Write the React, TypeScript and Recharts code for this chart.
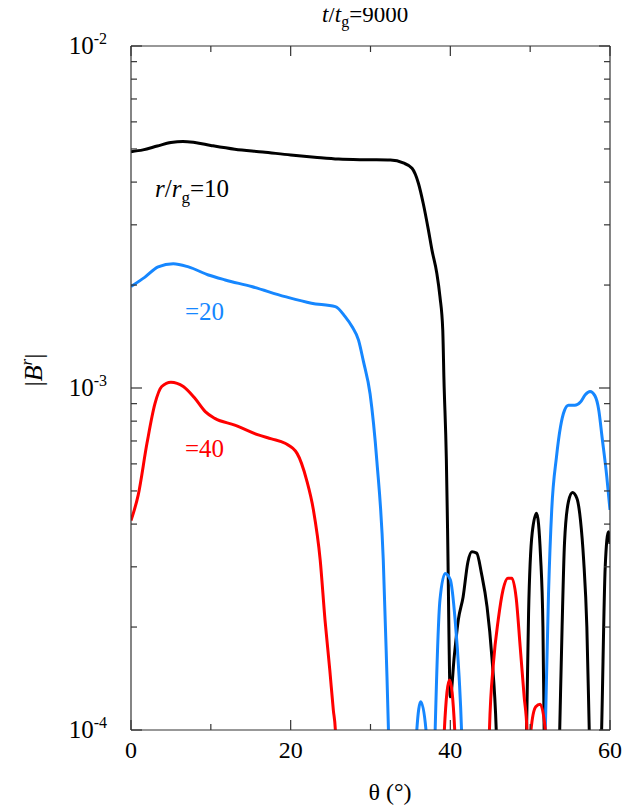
import React from 'react'
import { LineChart, Line, XAxis, YAxis } from 'recharts'

// theta in degrees, |B^r| values (5e-5 = below the axis floor)
const r10Theta = [0, 1.5, 3.3, 5, 6.5, 8, 10, 13, 16.5, 20, 23, 26, 29.5, 32.5, 34.1, 35.2, 36.0, 36.6, 37.25, 37.7, 38.3, 38.7, 39.05, 39.2, 39.5, 39.65, 40.0, 40.5, 41.0, 41.6, 42.2, 42.7, 43.3, 43.9, 44.6, 45.2, 45.75, 46.1, 49.2, 49.55, 49.8, 50.25, 50.8, 51.3, 51.6, 51.75, 52.0, 53.4, 53.7, 54.0, 54.3, 54.8, 55.3, 55.85, 56.3, 56.7, 57.1, 57.4, 57.7, 58.6, 58.95, 59.4, 59.8, 60]
const r10B = [4.91e-3, 4.97e-3, 5.1e-3, 5.22e-3, 5.26e-3, 5.22e-3, 5.12e-3, 4.99e-3, 4.9e-3, 4.8e-3, 4.73e-3, 4.67e-3, 4.65e-3, 4.64e-3, 4.55e-3, 4.39e-3, 3.97e-3, 3.47e-3, 2.9e-3, 2.53e-3, 2.17e-3, 1.85e-3, 1.48e-3, 1.06e-3, 6.2e-4, 3.9e-4, 1.25e-4, 1.65e-4, 2.1e-4, 2.45e-4, 3.1e-4, 3.32e-4, 3.29e-4, 2.87e-4, 2.29e-4, 1.64e-4, 1e-4, 5e-5, 5e-5, 1e-4, 2.19e-4, 3.76e-4, 4.3e-4, 3.22e-4, 2.0e-4, 1e-4, 5e-5, 5e-5, 1e-4, 2.0e-4, 3.52e-4, 4.66e-4, 4.95e-4, 4.76e-4, 4.11e-4, 3.14e-4, 2.0e-4, 1e-4, 5e-5, 5e-5, 1e-4, 3.0e-4, 3.8e-4, 3.5e-4]

const r20Theta = [0, 1.75, 3.4, 5.3, 7.2, 9.7, 11.8, 15.1, 19.3, 22.6, 25.6, 26.8, 27.7, 28.5, 29.1, 29.95, 30.8, 31.6, 32.0, 32.25, 32.5, 35.5, 35.8, 36.3, 36.95, 37.2, 37.8, 38.1, 38.7, 39.35, 40.0, 40.6, 41.1, 41.4, 41.7, 51.6, 51.9, 52.3, 52.7, 53.3, 53.8, 54.3, 54.8, 55.6, 56.3, 56.9, 57.5, 58.1, 58.6, 59.0, 59.6, 60]
const r20B = [1.98e-3, 2.11e-3, 2.26e-3, 2.31e-3, 2.26e-3, 2.14e-3, 2.07e-3, 1.98e-3, 1.85e-3, 1.77e-3, 1.73e-3, 1.62e-3, 1.51e-3, 1.38e-3, 1.2e-3, 9.6e-4, 6.1e-4, 3.14e-4, 1.6e-4, 1e-4, 5e-5, 5e-5, 1e-4, 1.21e-4, 1e-4, 5e-5, 5e-5, 1e-4, 2.4e-4, 2.87e-4, 2.75e-4, 2.1e-4, 1.43e-4, 1e-4, 5e-5, 5e-5, 1e-4, 2.51e-4, 4.4e-4, 6.3e-4, 7.7e-4, 8.6e-4, 8.9e-4, 8.9e-4, 9.1e-4, 9.55e-4, 9.76e-4, 9.5e-4, 8.6e-4, 7.2e-4, 5.5e-4, 4.4e-4]

const r40Theta = [0, 0.9, 2.0, 3.0, 3.85, 5.0, 6.55, 8.0, 9.3, 10.5, 13.0, 15.95, 17.6, 19.3, 20.8, 22.0, 22.85, 23.7, 24.3, 24.9, 25.35, 25.6, 25.9, 38.95, 39.25, 39.9, 40.55, 40.85, 44.6, 44.9, 45.4, 46.0, 46.6, 47.2, 47.7, 48.25, 48.75, 49.25, 49.6, 49.85, 50.1, 50.7, 51.25, 51.9, 52.2, 60]
const r40B = [4.1e-4, 4.86e-4, 6.89e-4, 9.0e-4, 1.01e-3, 1.04e-3, 1.01e-3, 9.33e-4, 8.53e-4, 8.15e-4, 7.79e-4, 7.29e-4, 7.1e-4, 6.89e-4, 6.44e-4, 5.38e-4, 4.4e-4, 3.14e-4, 2.1e-4, 1.5e-4, 1.14e-4, 1e-4, 5e-5, 5e-5, 1e-4, 1.4e-4, 1e-4, 5e-5, 5e-5, 1e-4, 1.57e-4, 2.1e-4, 2.57e-4, 2.78e-4, 2.78e-4, 2.43e-4, 1.75e-4, 1.25e-4, 1e-4, 5e-5, 1e-4, 1.17e-4, 1.19e-4, 1e-4, 5e-5, 5e-5]

const thetaTicks = [0, 10, 20, 30, 40, 50, 60]
const thetaLabels = [0, 20, 40, 60]
const bTicks = [1e-4, 2e-4, 3e-4, 4e-4, 5e-4, 6e-4, 7e-4, 8e-4, 9e-4, 1e-3, 2e-3, 3e-3, 4e-3, 5e-3, 6e-3, 7e-3, 8e-3, 9e-3, 1e-2]

const BLACK = '#000000'
const BLUE = '#1687ff'
const RED = '#ff0000'
const AXIS = '#333333'
const FONT = "'Liberation Serif', 'Times New Roman', serif"
const serif = { fontFamily: FONT }

const toRows = (theta: number[], b: number[]) => theta.map((t, i) => ({ theta: t, b: b[i] }))

const isDecade = (v: number) => Math.abs(Math.log10(v) - Math.round(Math.log10(v))) < 1e-6

function BottomTick({ x, y, payload }: any) {
  const major = thetaLabels.includes(payload.value)
  return (
    <g>
      <line x1={x} x2={x} y1={y} y2={y - (major ? 10 : 6)} stroke={AXIS} strokeWidth={1.2} />
      {major && (
        <text x={x} y={y + 28} textAnchor="middle" style={serif} fontSize={24} fill="#000">
          {payload.value}
        </text>
      )}
    </g>
  )
}

function TopTick({ x, y, payload }: any) {
  const major = thetaLabels.includes(payload.value)
  return <line x1={x} x2={x} y1={y} y2={y + (major ? 10 : 6)} stroke={AXIS} strokeWidth={1.2} />
}

function LeftTick({ x, y, payload }: any) {
  const major = isDecade(payload.value)
  const exp = Math.round(Math.log10(payload.value))
  return (
    <g>
      <line x1={x} x2={x + (major ? 11 : 6)} y1={y} y2={y} stroke={AXIS} strokeWidth={1.2} />
      {major && (
        <text x={x - 24} y={y + 8} textAnchor="end" style={serif} fontSize={25} fill="#000">
          <tspan>10</tspan>
          <tspan dy={-10} fontSize={16}>{exp}</tspan>
        </text>
      )}
    </g>
  )
}

function RightTick({ x, y, payload }: any) {
  const major = isDecade(payload.value)
  return <line x1={x} x2={x - (major ? 11 : 6)} y1={y} y2={y} stroke={AXIS} strokeWidth={1.2} />
}

export default function App() {
  const W = 631
  const H = 802
  return (
    <div style={{ position: 'relative', width: W, height: H }}>
      <LineChart width={W} height={H} margin={{ top: 28, right: 19, bottom: 30, left: 63 }}>
        <XAxis
          xAxisId="bottom"
          type="number"
          dataKey="theta"
          domain={[0, 60]}
          allowDataOverflow
          ticks={thetaTicks}
          interval={0}
          height={50}
          tickLine={false}
          tickSize={0}
          tickMargin={0}
          stroke={AXIS}
          strokeWidth={1.2}
          tick={<BottomTick />}
        />
        <XAxis
          xAxisId="top"
          orientation="top"
          type="number"
          dataKey="theta"
          domain={[0, 60]}
          allowDataOverflow
          ticks={thetaTicks}
          interval={0}
          height={10}
          tickLine={false}
          tickSize={0}
          tickMargin={0}
          stroke={AXIS}
          strokeWidth={1.2}
          tick={<TopTick />}
        />
        <YAxis
          yAxisId="left"
          scale="log"
          type="number"
          domain={[1e-4, 1e-2]}
          allowDataOverflow
          ticks={bTicks}
          interval={0}
          width={60}
          tickLine={false}
          tickSize={0}
          tickMargin={0}
          stroke={AXIS}
          strokeWidth={1.2}
          tick={<LeftTick />}
        />
        <YAxis
          yAxisId="right"
          orientation="right"
          scale="log"
          type="number"
          domain={[1e-4, 1e-2]}
          allowDataOverflow
          ticks={bTicks}
          interval={0}
          width={10}
          tickLine={false}
          tickSize={0}
          tickMargin={0}
          stroke={AXIS}
          strokeWidth={1.2}
          tick={<RightTick />}
        />
        <Line data={toRows(r10Theta, r10B)} dataKey="b" xAxisId="bottom" yAxisId="left" type="monotone"
          stroke={BLACK} strokeWidth={3} dot={false} isAnimationActive={false} />
        <Line data={toRows(r20Theta, r20B)} dataKey="b" xAxisId="bottom" yAxisId="left" type="monotone"
          stroke={BLUE} strokeWidth={3} dot={false} isAnimationActive={false} />
        <Line data={toRows(r40Theta, r40B)} dataKey="b" xAxisId="bottom" yAxisId="left" type="monotone"
          stroke={RED} strokeWidth={3} dot={false} isAnimationActive={false} />
      </LineChart>

      <svg width={W} height={H} fontSize={25}
        style={{ position: 'absolute', left: 0, top: 0, pointerEvents: 'none', overflow: 'visible', fontFamily: FONT }}>
        <text x={314} y={14} fill="#000" fontSize={23}>
          <tspan fontStyle="italic">t</tspan>/<tspan fontStyle="italic">t</tspan>
          <tspan dy={5} fontSize={16}>g</tspan>
          <tspan dy={-5}>=9000</tspan>
        </text>
        <text x={147} y={189} fill={BLACK}>
          <tspan fontStyle="italic">r</tspan>/<tspan fontStyle="italic">r</tspan>
          <tspan dy={6} fontSize={17}>g</tspan>
          <tspan dy={-6}>=10</tspan>
        </text>
        <text x={177} y={312} fill={BLUE}>=20</text>
        <text x={177} y={449} fill={RED}>=40</text>
        <text x={382} y={792} textAnchor="middle" fill="#000" fontSize={24}>θ (°)</text>
        <text x={34} y={362} textAnchor="middle" fill="#000" fontSize={26} transform="rotate(-90 34 362)">
          |<tspan fontStyle="italic">B</tspan>
          <tspan dy={-10} fontSize={17} fontStyle="italic">r</tspan>
          <tspan dy={10}>|</tspan>
        </text>
      </svg>
    </div>
  )
}
